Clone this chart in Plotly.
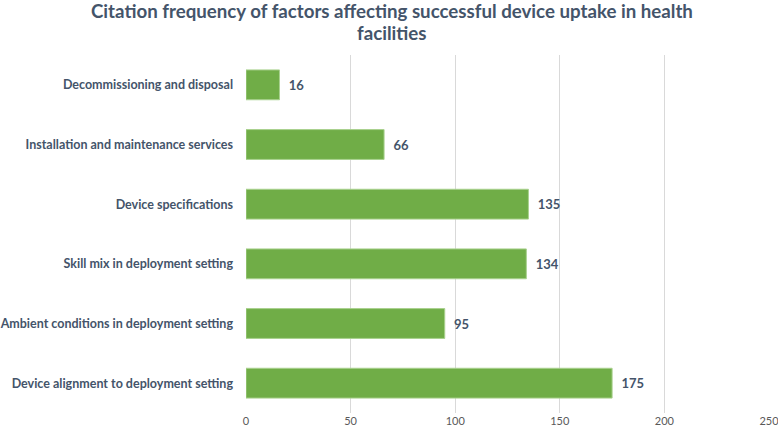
import plotly.graph_objects as go

categories = [
    "Device alignment to deployment setting",
    "Ambient conditions in deployment setting",
    "Skill mix in deployment setting",
    "Device specifications",
    "Installation and maintenance services",
    "Decommissioning and disposal",
]
values = [175, 95, 134, 135, 66, 16]
x_ticks = [0, 50, 100, 150, 200, 250]

title_line1 = "Citation frequency of factors affecting successful device uptake in health"
title_line2 = "facilities"

fig = go.Figure(
    go.Bar(
        y=categories,
        x=values,
        orientation="h",
        marker=dict(color="#70AD47", line=dict(color="#A9D18E", width=1)),
        text=values,
        texttemplate="  %{x}",
        textposition="outside",
        textfont=dict(family="Lato", size=13, color="#44546A", weight="bold"),
        cliponaxis=False,
        width=0.5,
    )
)

title_font = dict(family="Lato", size=18.7, color="#44546A", weight="bold")
fig.add_annotation(text=title_line1, xref="paper", yref="paper", x=0.5, y=1, xshift=-116,
                   yshift=44, showarrow=False, font=title_font, xanchor="center", yanchor="middle")
fig.add_annotation(text=title_line2, xref="paper", yref="paper", x=0.5, y=1, xshift=-116,
                   yshift=22, showarrow=False, font=title_font, xanchor="center", yanchor="middle")

fig.update_layout(
    width=778,
    height=431,
    margin=dict(l=246, r=9, t=55, b=18, autoexpand=False),
    paper_bgcolor="white",
    plot_bgcolor="white",
    showlegend=False,
    xaxis=dict(
        range=[0, 250],
        tickvals=x_ticks,
        showgrid=True,
        gridcolor="#D9D9D9",
        gridwidth=1,
        zeroline=False,
        showline=False,
        automargin=False,
        ticklabeloverflow="allow",
        tickfont=dict(family="Lato", size=11, color="#595959"),
        ticks="",
    ),
    yaxis=dict(
        showgrid=False,
        ticks="",
        automargin=False,
        ticklabelstandoff=12,
        tickfont=dict(family="Lato", size=12.5, color="#44546A", weight="bold"),
    ),
)

fig.write_html("out.html", config={"displayModeBar": False},
               post_script="document.body.style.margin='0';")
